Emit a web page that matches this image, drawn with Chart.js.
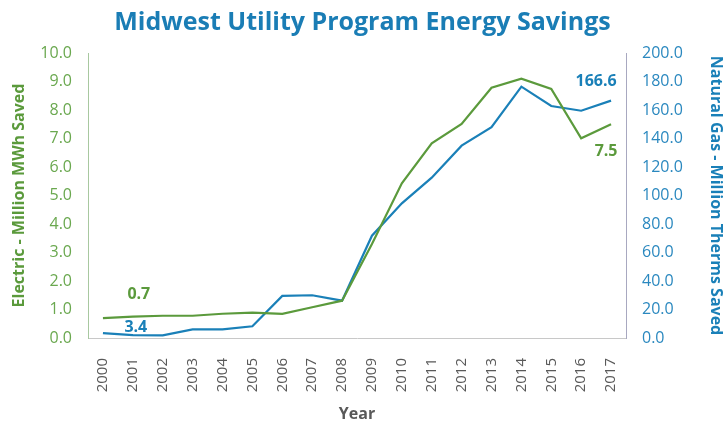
<!DOCTYPE html>
<html>
<head>
<meta charset="utf-8">
<script src="https://cdn.jsdelivr.net/npm/chart.js@4.4.1/dist/chart.umd.min.js"></script>
<style>
  html, body { margin: 0; padding: 0; background: #fff; }
  #wrap { width: 725px; height: 424px; }
</style>
</head>
<body>
<div id="wrap"><canvas id="energy-chart"></canvas></div>
<script>
// Savings per year
const years = ['2000', '2001', '2002', '2003', '2004', '2005', '2006', '2007', '2008',
    '2009', '2010', '2011', '2012', '2013', '2014', '2015', '2016', '2017'];
const electricMWh = [0.7, 0.75, 0.78, 0.78, 0.85, 0.89, 0.85, 1.08, 1.31,
    3.3, 5.43, 6.83, 7.51, 8.78, 9.1, 8.74, 7.01, 7.5];
const gasTherms = [3.4, 2.0, 1.8, 6.1, 6.1, 8.2, 29.5, 30.0, 26.2,
    71.8, 94.5, 112.5, 135.0, 148.0, 176.4, 162.8, 159.5, 166.6];
const leftTicks = [0, 1, 2, 3, 4, 5, 6, 7, 8, 9, 10];
const rightTicks = [0, 20, 40, 60, 80, 100, 120, 140, 160, 180, 200];

const green = '#5b9a3c';
const blue = '#1a80b8';
const font = "'Open Sans', sans-serif";

// a few values are written next to the line, like in the original
const callouts = [
    { dataset: 0, index: 1, text: '0.7', dx: 6, dy: -22 },
    { dataset: 1, index: 1, text: '3.4', dx: 3, dy: -8 },
    { dataset: 1, index: 17, text: '166.6', dx: -15, dy: -19 },
    { dataset: 0, index: 17, text: '7.5', dx: -5, dy: 27 }
];

const calloutPlugin = {
    id: 'callouts',
    afterDatasetsDraw(chart) {
        const ctx = chart.ctx;
        ctx.save();
        ctx.font = "bold 16px " + font;
        ctx.textAlign = 'center';
        ctx.textBaseline = 'middle';
        callouts.forEach(c => {
            const pt = chart.getDatasetMeta(c.dataset).data[c.index];
            ctx.fillStyle = chart.data.datasets[c.dataset].borderColor;
            ctx.fillText(c.text, pt.x + c.dx, pt.y + c.dy);
        });
        ctx.restore();
    }
};

new Chart(document.getElementById('energy-chart'), {
    type: 'line',
    data: {
        labels: years,
        datasets: [{
            label: 'Electric',
            data: electricMWh,
            borderColor: green,
            borderWidth: 2.2,
            pointRadius: 0,
            yAxisID: 'y'
        }, {
            label: 'Natural Gas',
            data: gasTherms,
            borderColor: blue,
            borderWidth: 2.2,
            pointRadius: 0,
            yAxisID: 'y1'
        }]
    },
    options: {
        responsive: true,
        maintainAspectRatio: false,
        animation: false,
        layout: { padding: 0 },
        plugins: {
            legend: { display: false },
            tooltip: { enabled: false },
            title: {
                display: true,
                text: 'Midwest Utility Program Energy Savings',
                color: '#1a7db5',
                font: { family: font, size: 25, weight: 'bold' },
                padding: { top: 8, bottom: 15 }
            }
        },
        scales: {
            x: {
                offset: true,
                grid: { display: false, drawTicks: false },
                border: { color: '#c8c8c8' },
                ticks: {
                    color: '#595959',
                    font: { family: font, size: 15 },
                    minRotation: 90,
                    maxRotation: 90,
                    padding: 20,
                    autoSkip: false
                },
                title: {
                    display: true,
                    text: 'Year',
                    color: '#595959',
                    font: { family: font, size: 16, weight: 'bold' },
                    padding: 0
                },
                afterFit(scale) { scale.height = 86; }
            },
            y: {
                position: 'left',
                min: 0,
                max: 10,
                grid: { display: false, drawTicks: false },
                border: { color: '#a8c8a0' },
                afterBuildTicks(scale) { scale.ticks = leftTicks.map(v => ({ value: v })); },
                ticks: {
                    color: '#6aa84f',
                    font: { family: font, size: 16 },
                    padding: 16,
                    callback: v => v.toFixed(1)
                },
                title: {
                    display: true,
                    text: 'Electric - Million MWh Saved',
                    color: green,
                    font: { family: font, size: 16, weight: 'bold' },
                    padding: { top: 10, bottom: 0 }
                },
                afterFit(scale) { scale.width = 88; }
            },
            y1: {
                position: 'right',
                min: 0,
                max: 200,
                grid: { display: false, drawTicks: false },
                border: { color: '#a8a8c0' },
                afterBuildTicks(scale) { scale.ticks = rightTicks.map(v => ({ value: v })); },
                ticks: {
                    color: '#2a88bf',
                    font: { family: font, size: 16 },
                    padding: 16,
                    callback: v => v.toFixed(1)
                },
                title: {
                    display: true,
                    text: 'Natural Gas - Million Therms Saved',
                    color: blue,
                    font: { family: font, size: 16, weight: 'bold' },
                    padding: { top: 0, bottom: 2 }
                },
                afterFit(scale) { scale.width = 99; }
            }
        }
    },
    plugins: [calloutPlugin]
});
</script>
</body>
</html>
